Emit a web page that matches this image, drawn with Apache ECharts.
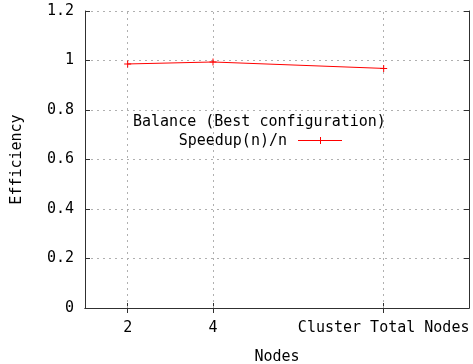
<!DOCTYPE html>
<html>
<head>
<meta charset="utf-8">
<script src="https://cdn.jsdelivr.net/npm/echarts@6/dist/echarts.min.js"></script>
<style>
html,body{margin:0;padding:0;background:#fff;}
#chart{width:473px;height:364px;}
</style>
</head>
<body>
<div id="chart"></div>
<script>
/* ---------- data ---------- */
const xTicks      = [2, 4, 8];
const xTickLabels = ['2', '4', 'Cluster Total Nodes'];
const nodes       = [2, 4, 8];
const efficiency  = [0.986, 0.994, 0.968];
const keyTitle    = 'Balance (Best configuration)';
const seriesName  = 'Speedup(n)/n';

const FONT = 'DejaVu Sans Mono';
const RED = '#ff0000';
const txt = {fontFamily: FONT, fontSize: 15, color: '#000'};
const grid = '#b0b0b0';
const axisCol = '#303030';
const plus = 'path://M3,0h1v3h3v1h-3v3h-1v-3h-3v-1h3z';

const chart = echarts.init(document.getElementById('chart'));
const tickOpt = {show: true, inside: true, length: 5, customValues: xTicks, lineStyle: {color: axisCol}};
const yTick = {show: true, inside: true, length: 5, lineStyle: {color: axisCol}};

/* ---------- key (gnuplot style: text, then sample) ---------- */
const keyGraphic = [
  {type: 'text', left: 133, top: 115, style: {text: keyTitle, font: '15px ' + FONT, fill: '#000'}},
  {type: 'text', x: 287, y: 141, style: {text: seriesName, font: '15px ' + FONT, fill: '#000', align: 'right', verticalAlign: 'middle'}},
  {type: 'line', shape: {x1: 298, y1: 140.5, x2: 342, y2: 140.5}, style: {stroke: RED, lineWidth: 1}},
  {type: 'line', shape: {x1: 320.5, y1: 137, x2: 320.5, y2: 144}, style: {stroke: RED, lineWidth: 1}}
];

chart.setOption({
  animation: false,
  graphic: keyGraphic,
  grid: {left: 85, right: 4, top: 11, bottom: 56, outerBoundsMode: 'none', containLabel: false},
  xAxis: [{
    type: 'value', min: 1, max: 10,
    name: 'Nodes', nameLocation: 'middle', nameGap: 42,
    nameTextStyle: txt,
    axisLine: {lineStyle: {color: axisCol}},
    axisTick: tickOpt,
    axisLabel: Object.assign({customValues: xTicks, margin: 13,
      formatter: v => xTickLabels[xTicks.indexOf(v)]}, txt),
    splitLine: {show: false}
  }, {
    type: 'value', min: 1, max: 10, position: 'top',
    axisLine: {lineStyle: {color: axisCol}},
    axisTick: tickOpt, axisLabel: {show: false}, splitLine: {show: false}
  }],
  yAxis: [{
    type: 'value', min: 0, max: 1.2, interval: 0.2,
    name: 'Efficiency', nameLocation: 'middle', nameGap: 60, nameRotate: 90,
    nameTextStyle: txt,
    axisLine: {show: true, lineStyle: {color: axisCol}},
    axisTick: yTick,
    axisLabel: Object.assign({margin: 11}, txt),
    splitLine: {show: true, lineStyle: {color: grid, type: [2, 4]}}
  }, {
    type: 'value', min: 0, max: 1.2, interval: 0.2, position: 'right',
    axisLine: {show: true, lineStyle: {color: axisCol}},
    axisTick: yTick,
    axisLabel: {show: false}, splitLine: {show: false}
  }],
  series: [{
    name: seriesName, type: 'line',
    data: nodes.map((n, i) => [n, efficiency[i]]),
    symbol: plus, symbolSize: 7, showSymbol: true,
    lineStyle: {color: RED, width: 1},
    itemStyle: {color: RED},
    markLine: {
      silent: true, symbol: 'none', label: {show: false},
      lineStyle: {color: grid, type: [2, 4], width: 1},
      data: xTicks.map(v => ({xAxis: v}))
    },
    z: 5
  }]
});
</script>
</body>
</html>
